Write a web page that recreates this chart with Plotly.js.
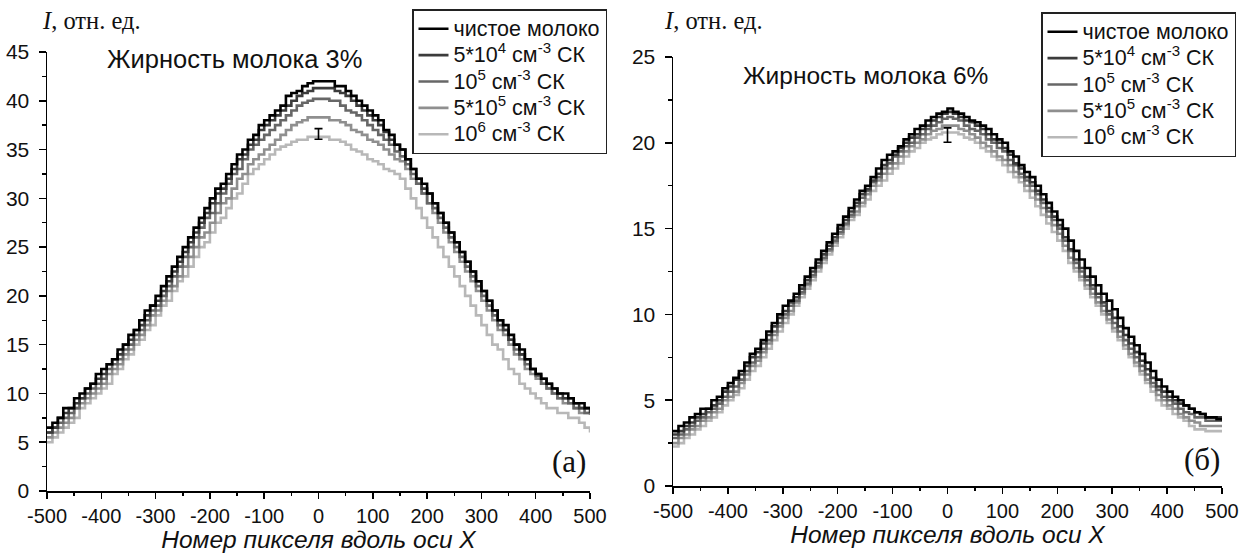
<!DOCTYPE html>
<html>
<head>
<meta charset="utf-8">
<script src="https://cdn.plot.ly/plotly-3.0.1.min.js"></script>
<style>html,body{margin:0;padding:0;background:#fff;}#chart{width:1247px;height:556px;}</style>
</head>
<body>
<div id="chart"></div>
<script>
// Pixel number along X axis (sampling grid)
const pixelX = [-500,-490,-480,-470,-460,-450,-440,-430,-420,-410,-400,-390,-380,-370,-360,-350,-340,-330,-320,-310,-300,-290,-280,-270,-260,-250,-240,-230,-220,-210,-200,-190,-180,-170,-160,-150,-140,-130,-120,-110,-100,-90,-80,-70,-60,-50,-40,-30,-20,-10,0,10,20,30,40,50,60,70,80,90,100,110,120,130,140,150,160,170,180,190,200,210,220,230,240,250,260,270,280,290,300,310,320,330,340,350,360,370,380,390,400,410,420,430,440,450,460,470,480,490,500];

// Axis tick labels
const xTickVals = [-500,-400,-300,-200,-100,0,100,200,300,400,500];
const xTickText = ['-500','-400','-300','-200','-100','0','100','200','300','400','500'];

const seriesNames = [
  "чистое молоко",
  "5*10<sup>4</sup> см<sup>-3</sup> СК",
  "10<sup>5</sup> см<sup>-3</sup> СК",
  "5*10<sup>5</sup> см<sup>-3</sup> СК",
  "10<sup>6</sup> см<sup>-3</sup> СК"
];
const seriesColors = ["#000000", "#3c3c3c", "#676767", "#8f8f8f", "#b8b8b8"];

// Fat 3% (a)
const fat3_pure = [6.5,7.0,7.5,8.5,8.5,9.5,10.0,10.5,11.0,12.0,12.5,13.0,13.5,14.5,15.0,16.0,16.5,17.5,18.5,19.0,20.0,21.0,22.0,23.0,24.0,25.0,26.0,27.0,28.0,29.0,30.0,31.0,31.5,32.5,33.5,34.5,35.0,36.0,36.5,37.5,38.0,38.5,39.0,39.5,40.5,40.8,41.0,41.5,41.8,42.0,42.0,42.0,42.0,41.5,41.5,41.0,40.5,40.0,39.5,39.0,38.5,38.0,37.0,36.5,35.5,35.0,34.0,33.0,32.0,31.5,30.5,29.5,28.5,27.5,26.5,25.5,24.5,23.5,22.5,21.5,20.5,19.5,18.5,17.5,17.0,16.0,15.0,14.5,13.5,12.5,12.0,11.5,11.0,10.5,10.0,10.0,9.5,9.0,9.0,8.5,8.5];
const fat3_5e4 = [6.0,6.5,7.5,8.0,8.5,9.0,9.5,10.5,11.0,11.5,12.0,13.0,13.5,14.0,15.0,15.5,16.5,17.0,18.0,19.0,19.5,20.5,21.5,22.5,23.5,24.5,25.5,26.5,27.5,28.5,29.5,30.5,31.0,32.0,33.0,34.0,34.5,35.5,36.0,37.0,37.5,38.0,38.5,39.0,39.5,40.0,40.5,40.8,41.0,41.3,41.3,41.3,41.3,41.0,40.8,40.5,40.0,39.5,39.0,38.5,38.0,37.5,36.8,36.0,35.5,35.0,34.0,33.0,32.0,31.0,30.5,29.5,28.5,27.5,26.5,25.5,24.5,23.5,22.5,21.5,20.5,19.5,18.5,17.5,16.5,15.5,15.0,14.0,13.5,12.5,12.0,11.5,11.0,10.5,10.0,9.5,9.5,9.0,8.5,8.5,8.0];
const fat3_1e5 = [6.0,6.5,7.0,7.5,8.0,8.5,9.5,10.0,10.5,11.0,11.5,12.5,13.0,13.5,14.5,15.0,16.0,16.5,17.5,18.5,19.0,20.0,21.0,22.0,23.0,24.0,25.0,26.0,27.0,28.0,28.5,29.5,30.5,31.5,32.5,33.0,34.0,35.0,35.5,36.0,36.5,37.0,37.5,38.0,38.5,39.0,39.5,39.8,40.0,40.2,40.2,40.2,40.0,40.0,39.5,39.0,38.8,38.5,38.0,37.5,37.0,36.5,36.0,35.5,34.8,34.3,33.5,32.5,31.5,30.5,29.5,29.0,28.0,27.0,26.0,25.0,24.0,23.0,22.0,21.0,20.0,19.0,18.0,17.0,16.5,15.5,14.5,14.0,13.0,12.5,11.8,11.0,10.5,10.0,9.5,9.5,9.0,8.5,8.5,8.0,8.0];
const fat3_5e5 = [5.5,6.0,6.5,7.0,7.5,8.5,9.0,9.5,10.0,10.5,11.0,12.0,12.5,13.0,14.0,14.5,15.5,16.0,17.0,18.0,18.5,19.5,20.5,21.0,22.0,23.0,24.0,25.0,26.0,26.5,27.5,28.5,29.5,30.0,31.0,32.0,32.5,33.5,34.0,34.5,35.0,35.5,36.0,36.5,37.0,37.5,37.8,38.0,38.3,38.3,38.3,38.3,38.0,38.0,37.8,37.5,37.0,36.8,36.5,36.0,35.8,35.5,35.0,34.5,34.0,33.8,33.0,32.0,31.5,30.5,29.5,28.5,27.5,26.5,25.5,24.5,23.5,22.5,21.5,20.5,19.5,18.5,17.5,16.5,16.0,15.0,14.0,13.5,12.5,12.0,11.5,11.0,10.5,10.0,9.5,9.0,9.0,8.5,8.0,8.0,7.8];
const fat3_1e6 = [5.0,5.5,6.0,6.5,7.0,7.5,8.5,9.0,9.5,10.0,10.5,11.0,12.0,12.5,13.5,14.0,15.0,15.5,16.5,17.0,18.0,19.0,19.5,20.5,21.5,22.0,23.0,24.0,25.0,25.5,26.5,27.5,28.0,29.0,30.0,30.5,31.5,32.5,33.0,33.5,34.0,34.5,35.0,35.3,35.5,35.8,36.0,36.0,36.3,36.3,36.3,36.3,36.0,36.0,35.8,35.5,35.0,34.8,34.5,34.0,33.8,33.5,33.0,32.8,32.5,32.0,31.0,30.0,29.0,28.0,27.0,26.0,25.0,24.0,23.0,22.0,21.0,20.0,19.0,18.0,17.0,16.0,15.0,14.5,13.5,12.5,12.0,11.0,10.5,10.0,9.5,9.0,8.5,8.5,8.0,8.0,7.5,7.5,7.0,6.5,6.0];

// Fat 6% (б)
const fat6_pure = [3.2,3.5,3.7,4.0,4.2,4.5,4.5,5.0,5.2,5.7,6.0,6.3,6.7,7.2,7.7,8.0,8.5,9.0,9.5,10.0,10.5,10.8,11.2,11.7,12.2,12.7,13.2,13.7,14.2,14.7,15.2,15.7,16.2,16.7,17.2,17.5,18.0,18.5,19.0,19.3,19.5,19.8,20.2,20.5,20.8,21.0,21.3,21.5,21.7,21.8,22.0,21.8,21.7,21.5,21.3,21.2,21.0,20.8,20.5,20.2,20.0,19.5,19.2,18.7,18.3,18.0,17.5,17.0,16.5,16.0,15.5,15.0,14.3,13.7,13.2,12.7,12.2,11.7,11.2,10.8,10.3,9.8,9.2,8.7,8.2,7.7,7.2,6.7,6.2,5.8,5.5,5.2,5.0,4.7,4.5,4.3,4.2,4.0,4.0,3.9,3.8];
const fat6_5e4 = [3.0,3.2,3.5,3.7,4.0,4.2,4.5,4.7,5.0,5.5,5.8,6.2,6.5,7.0,7.5,7.8,8.3,8.8,9.3,9.8,10.2,10.7,11.0,11.5,12.0,12.5,13.0,13.5,14.0,14.5,15.0,15.5,16.0,16.5,17.0,17.3,17.8,18.2,18.7,19.0,19.3,19.7,20.0,20.3,20.5,20.8,21.0,21.3,21.5,21.7,21.8,21.7,21.5,21.3,21.2,21.0,20.8,20.5,20.2,20.0,19.7,19.3,18.8,18.5,18.0,17.7,17.2,16.7,16.2,15.7,15.2,14.5,13.8,13.2,12.7,12.2,11.7,11.2,10.7,10.2,9.8,9.3,8.8,8.3,7.8,7.3,6.8,6.3,5.8,5.5,5.2,5.0,4.8,4.7,4.5,4.3,4.2,4.0,4.0,4.0,4.0];
const fat6_1e5 = [2.8,3.0,3.3,3.5,3.8,4.0,4.3,4.5,4.8,5.2,5.5,5.8,6.2,6.7,7.2,7.5,8.0,8.5,9.0,9.5,10.0,10.5,10.8,11.3,11.8,12.3,12.8,13.3,13.8,14.3,14.8,15.3,15.8,16.3,16.8,17.2,17.7,18.0,18.5,18.8,19.2,19.5,19.8,20.0,20.3,20.5,20.8,21.0,21.2,21.4,21.5,21.4,21.3,21.0,20.8,20.7,20.5,20.2,20.0,19.7,19.5,19.0,18.7,18.2,17.8,17.5,17.0,16.5,16.0,15.5,15.0,14.3,13.7,13.0,12.5,12.0,11.5,11.0,10.5,10.0,9.5,9.0,8.5,8.0,7.5,7.0,6.5,6.0,5.6,5.2,5.0,4.8,4.5,4.3,4.2,4.0,4.0,3.8,3.8,3.8,3.8];
const fat6_5e5 = [2.5,2.8,3.0,3.3,3.5,3.8,4.0,4.3,4.5,5.0,5.2,5.5,6.0,6.5,7.0,7.3,7.8,8.3,8.8,9.3,9.8,10.2,10.7,11.2,11.7,12.2,12.7,13.2,13.7,14.2,14.7,15.2,15.7,16.0,16.5,17.0,17.5,17.8,18.2,18.5,18.8,19.2,19.5,19.8,20.0,20.2,20.5,20.7,20.8,21.0,21.0,21.0,20.8,20.7,20.5,20.3,20.0,19.8,19.5,19.2,19.0,18.7,18.3,18.0,17.5,17.2,16.7,16.2,15.7,15.2,14.7,14.0,13.3,12.7,12.2,11.7,11.2,10.7,10.2,9.7,9.2,8.7,8.2,7.7,7.2,6.7,6.2,5.8,5.3,5.0,4.7,4.5,4.2,4.0,3.8,3.7,3.5,3.5,3.5,3.5,3.5];
const fat6_1e6 = [2.3,2.5,2.8,3.0,3.3,3.5,3.8,4.0,4.3,4.7,5.0,5.3,5.7,6.2,6.7,7.0,7.5,8.0,8.5,9.0,9.5,10.0,10.5,11.0,11.5,12.0,12.5,13.0,13.5,14.0,14.5,15.0,15.5,15.8,16.3,16.7,17.2,17.5,17.8,18.2,18.5,18.8,19.2,19.5,19.7,20.0,20.2,20.3,20.5,20.6,20.6,20.6,20.5,20.3,20.2,20.0,19.7,19.5,19.2,19.0,18.7,18.3,18.0,17.7,17.2,16.8,16.3,15.8,15.3,14.8,14.3,13.7,13.0,12.5,12.0,11.5,11.0,10.5,10.0,9.5,9.0,8.5,8.0,7.5,7.0,6.5,6.0,5.5,5.0,4.7,4.5,4.2,4.0,3.8,3.5,3.3,3.3,3.2,3.2,3.2,3.2];

// Error bars at the peak
const errX3 = [0], errY3 = [36.6], errD3 = [0.55];
const errX6 = [0], errY6 = [20.45], errD6 = [0.42];

const seriesFat3 = [fat3_pure, fat3_5e4, fat3_1e5, fat3_5e5, fat3_1e6];
const seriesFat6 = [fat6_pure, fat6_5e4, fat6_1e5, fat6_5e5, fat6_1e6];

const W = 1247, H = 556;
const legendLabel = (s) => '<span style="font-size:21.5px">' + s + '</span>';
const traces = [];
// draw lightest first so black is on top
for (let i = 4; i >= 0; i--) {
  traces.push({
    x: pixelX, y: seriesFat3[i], name: legendLabel(seriesNames[i]), type: 'scatter', mode: 'lines',
    line: {color: seriesColors[i], width: 2.6, shape: 'hv'},
    xaxis: 'x', yaxis: 'y', legend: 'legend', legendrank: i + 1
  });
}
for (let i = 4; i >= 0; i--) {
  traces.push({
    x: pixelX, y: seriesFat6[i], name: legendLabel(seriesNames[i]), type: 'scatter', mode: 'lines',
    line: {color: seriesColors[i], width: 2.6, shape: 'hv'},
    xaxis: 'x2', yaxis: 'y2', legend: 'legend2', legendrank: i + 1
  });
}
traces.push({x: errX3, y: errY3, type: 'scatter', mode: 'markers', marker: {size: 1, color: 'rgba(0,0,0,0)'},
  error_y: {type: 'data', array: errD3, visible: true, color: '#000', thickness: 1.6, width: 4},
  showlegend: false, xaxis: 'x', yaxis: 'y', hoverinfo: 'skip'});
traces.push({x: errX6, y: errY6, type: 'scatter', mode: 'markers', marker: {size: 1, color: 'rgba(0,0,0,0)'},
  error_y: {type: 'data', array: errD6, visible: true, color: '#000', thickness: 1.6, width: 4},
  showlegend: false, xaxis: 'x2', yaxis: 'y2', hoverinfo: 'skip'});

const sans = 'Liberation Sans, Arial, sans-serif';
const serif = 'Liberation Serif, Times New Roman, serif';
function xAxis(domain, anchor) {
  return {
    domain: domain, anchor: anchor, range: [-500, 500],
    tickmode: 'array', tickvals: xTickVals, ticktext: xTickText,
    showgrid: false, zeroline: false, showline: true, linecolor: '#000', linewidth: 1.5,
    ticks: 'outside', ticklen: 6, tickwidth: 1.5, tickcolor: '#000',
    tickfont: {family: sans, size: 20, color: '#111'},
    minor: {dtick: 50, tick0: 0, ticks: 'outside', ticklen: 3, tickwidth: 1.5, tickcolor: '#000', showgrid: false},
    title: {text: '<i>Номер пикселя вдоль оси X</i>', font: {family: sans, size: 24.5, color: '#111'}, standoff: 4},
    automargin: false
  };
}
function yAxis(domain, anchor, maxV) {
  return {
    domain: domain, anchor: anchor, range: [0, maxV], dtick: 5, tick0: 0,
    showgrid: false, zeroline: false, showline: true, linecolor: '#000', linewidth: 1.5,
    ticks: 'outside', ticklen: 7, tickwidth: 1.5, tickcolor: '#000',
    tickfont: {family: sans, size: 21, color: '#111'}, ticklabelstandoff: 5,
    minor: {dtick: 2.5, ticks: 'outside', ticklen: 4, tickwidth: 1.5, tickcolor: '#000', showgrid: false},
    automargin: false
  };
}
const legendFont = {family: sans, size: 18, color: '#111'};
const layout = {
  width: W, height: H,
  margin: {l: 0, r: 0, t: 0, b: 0},
  paper_bgcolor: '#fff', plot_bgcolor: '#fff',
  xaxis: xAxis([47 / W, 590 / W], 'y'),
  yaxis: yAxis([(H - 491) / H, (H - 52) / H], 'x', 45),
  xaxis2: xAxis([673 / W, 1222 / W], 'y2'),
  yaxis2: yAxis([(H - 486) / H, (H - 57) / H], 'x2', 25),
  legend: {x: 412 / W, y: 1 - 9 / H, xanchor: 'left', yanchor: 'top', xref: 'paper', yref: 'paper',
    bgcolor: '#fff', bordercolor: '#222', borderwidth: 1.5, font: legendFont, traceorder: 'normal', tracegroupgap: 0},
  legend2: {x: 1041 / W, y: 1 - 12 / H, xanchor: 'left', yanchor: 'top', xref: 'paper', yref: 'paper',
    bgcolor: '#fff', bordercolor: '#222', borderwidth: 1.5, font: legendFont, traceorder: 'normal', tracegroupgap: 0},
  showlegend: true,
  annotations: [
    {text: '<i>I</i>, отн. ед.', xref: 'paper', yref: 'paper', x: 40 / W, y: 1 - 21 / H, xanchor: 'left', yanchor: 'middle',
      showarrow: false, font: {family: serif, size: 24.5, color: '#111'}},
    {text: '<i>I</i>, отн. ед.', xref: 'paper', yref: 'paper', x: 662 / W, y: 1 - 21 / H, xanchor: 'left', yanchor: 'middle',
      showarrow: false, font: {family: serif, size: 24.5, color: '#111'}},
    {text: 'Жирность молока 3%', xref: 'paper', yref: 'paper', x: 234 / W, y: 1 - 59 / H, xanchor: 'center', yanchor: 'middle',
      showarrow: false, font: {family: sans, size: 25.5, color: '#111'}},
    {text: 'Жирность молока 6%', xref: 'paper', yref: 'paper', x: 865 / W, y: 1 - 75 / H, xanchor: 'center', yanchor: 'middle',
      showarrow: false, font: {family: sans, size: 24.5, color: '#111'}},
    {text: '(a)', xref: 'paper', yref: 'paper', x: 569 / W, y: 1 - 461 / H, xanchor: 'center', yanchor: 'middle',
      showarrow: false, font: {family: serif, size: 31, color: '#111'}},
    {text: '(б)', xref: 'paper', yref: 'paper', x: 1202 / W, y: 1 - 459 / H, xanchor: 'center', yanchor: 'middle',
      showarrow: false, font: {family: serif, size: 31, color: '#111'}}
  ]
};
Plotly.newPlot('chart', traces, layout, {displayModeBar: false, staticPlot: true});
</script>
</body>
</html>
